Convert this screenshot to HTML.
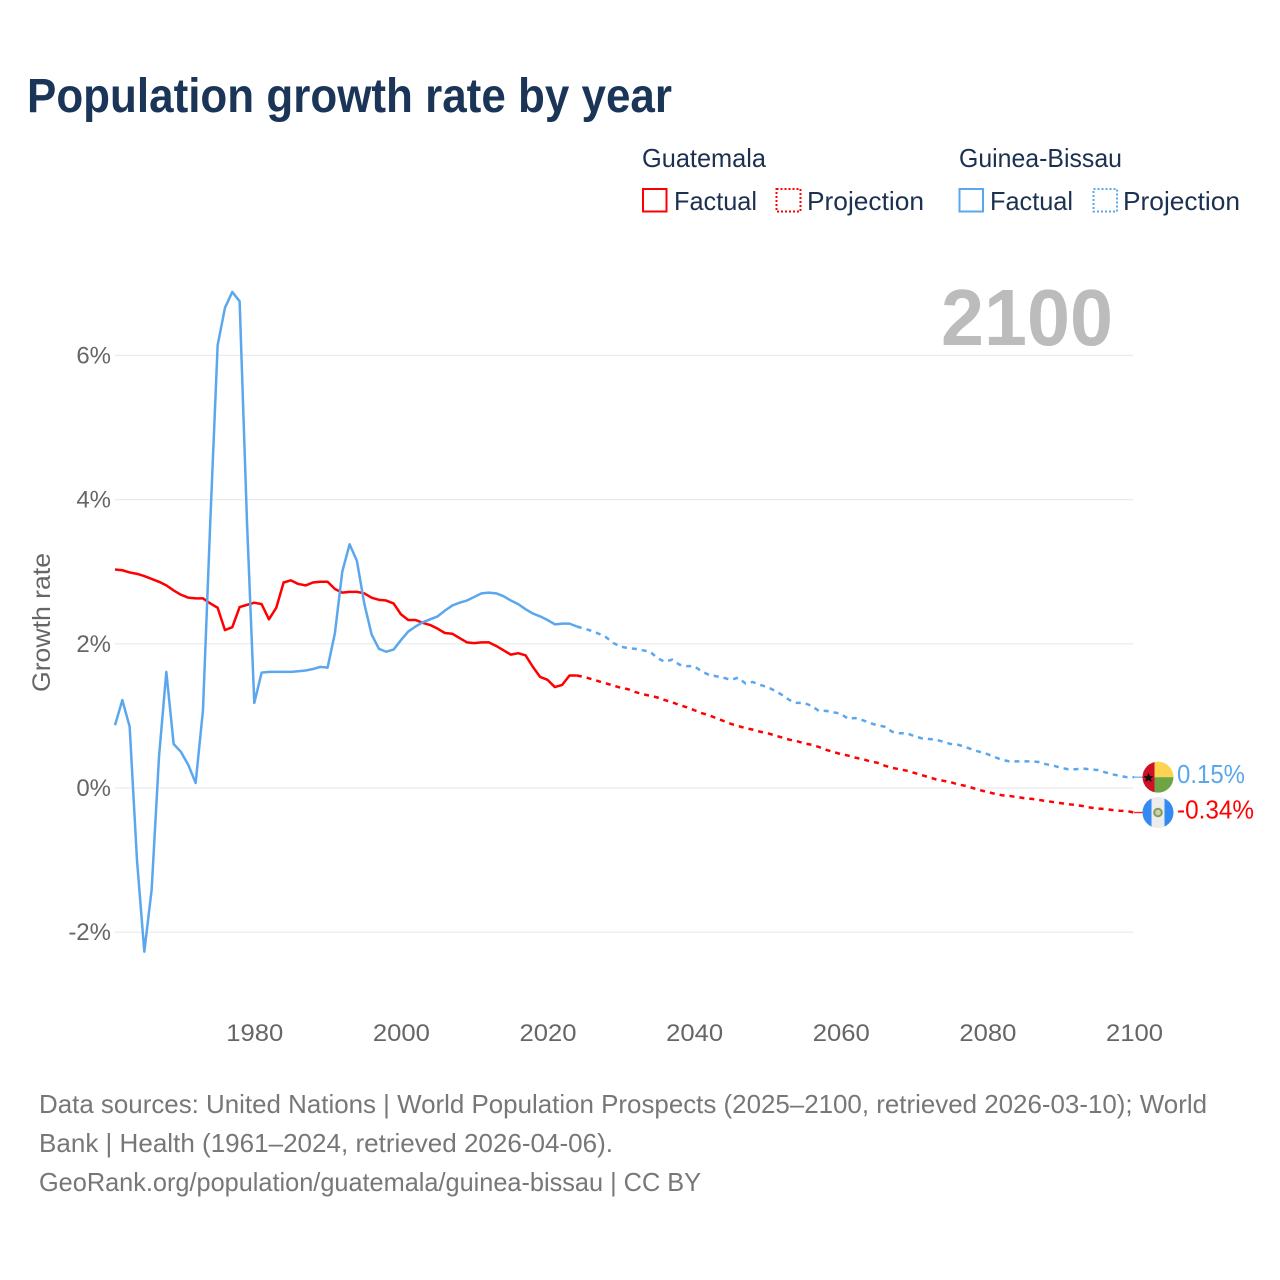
<!DOCTYPE html>
<html lang="en">
<head>
<meta charset="utf-8">
<title>Population growth rate by year</title>
<style>
html,body{margin:0;padding:0;background:#fff;}
svg{display:block;}
text{font-family:"Liberation Sans",sans-serif;}
</style>
</head>
<body>
<svg id="chart" xmlns="http://www.w3.org/2000/svg" width="1280" height="1280" viewBox="0 0 1280 1280">
  <rect x="0" y="0" width="1280" height="1280" fill="#ffffff"/>
  <text x="27" y="112" font-size="48" font-weight="700" fill="#1a3557" textLength="645" lengthAdjust="spacingAndGlyphs">Population growth rate by year</text>

  <g font-size="26" fill="#1c3150">
    <text x="642" y="167" textLength="124" lengthAdjust="spacingAndGlyphs">Guatemala</text>
    <text x="959" y="167" textLength="163" lengthAdjust="spacingAndGlyphs">Guinea-Bissau</text>
    <rect x="643" y="189" width="23.5" height="22.5" fill="none" stroke="#ff0000" stroke-width="2"/>
    <text x="674" y="210" textLength="83" lengthAdjust="spacingAndGlyphs">Factual</text>
    <rect x="776.5" y="189" width="24" height="22.5" fill="none" stroke="#ff0000" stroke-width="2" stroke-dasharray="2 2"/>
    <text x="807" y="210" textLength="117" lengthAdjust="spacingAndGlyphs">Projection</text>
    <rect x="959.5" y="189" width="23.5" height="22.5" fill="none" stroke="#5ba7ee" stroke-width="2"/>
    <text x="990" y="210" textLength="83" lengthAdjust="spacingAndGlyphs">Factual</text>
    <rect x="1093.5" y="189" width="23.5" height="22.5" fill="none" stroke="#5ba7ee" stroke-width="2" stroke-dasharray="2 2"/>
    <text x="1123" y="210" textLength="117" lengthAdjust="spacingAndGlyphs">Projection</text>
  </g>

  <g id="grid"></g>
  <text x="941" y="345" font-size="80" font-weight="700" fill="#bcbcbc" textLength="172" lengthAdjust="spacingAndGlyphs">2100</text>
  <g id="yTicks" font-size="24" fill="#666666" text-anchor="end"></g>
  <g id="xTicks" font-size="24" fill="#666666" text-anchor="middle"></g>
  <text transform="translate(50,692) rotate(-90)" x="0" y="0" font-size="25" fill="#666666" textLength="139" lengthAdjust="spacingAndGlyphs">Growth rate</text>
  <g id="series"></g>

  <defs>
    <clipPath id="flagClip"><circle cx="0" cy="0" r="15.5"/></clipPath>
  </defs>
  <g id="flagGW">
    <g clip-path="url(#flagClip)">
      <rect x="-16" y="-16" width="12.5" height="32" fill="#ce1126"/>
      <rect x="-3.5" y="-16" width="19.5" height="16" fill="#fcd44f"/>
      <rect x="-3.5" y="0" width="19.5" height="16" fill="#6ea544"/>
      <polygon points="-9.5,-4.5 -8,-1 -4.5,-1 -7.2,1.3 -6.2,4.8 -9.5,2.8 -12.8,4.8 -11.8,1.3 -14.5,-1 -11,-1" fill="#111111"/>
    </g>
  </g>
  <g id="flagGT">
    <g clip-path="url(#flagClip)">
      <rect x="-16" y="-16" width="32" height="32" fill="#ececec"/>
      <rect x="-16" y="-16" width="9.5" height="32" fill="#338af3"/>
      <rect x="6.5" y="-16" width="9.5" height="32" fill="#338af3"/>
      <circle cx="0" cy="0" r="3.8" fill="#d8cfa0" stroke="#7f9f62" stroke-width="2"/>
    </g>
  </g>
  <text id="labelGW" x="1177" font-size="26" fill="#5ba7ee" textLength="68" lengthAdjust="spacingAndGlyphs"></text>
  <text id="labelGT" x="1177" font-size="26" fill="#ff0000" textLength="77" lengthAdjust="spacingAndGlyphs"></text>

  <g font-size="26" fill="#777777">
    <text x="39" y="1113" textLength="1168" lengthAdjust="spacingAndGlyphs">Data sources: United Nations | World Population Prospects (2025–2100, retrieved 2026-03-10); World</text>
    <text x="39" y="1152" textLength="574" lengthAdjust="spacingAndGlyphs">Bank | Health (1961–2024, retrieved 2026-04-06).</text>
    <text x="39" y="1191" textLength="662" lengthAdjust="spacingAndGlyphs">GeoRank.org/population/guatemala/guinea-bissau | CC BY</text>
  </g>
</svg>
<script>
const firstYear = 1961;
const xTickYears = [1980, 2000, 2020, 2040, 2060, 2080, 2100];
const yTickValues = [6, 4, 2, 0, -2];
const yTickLabels = ["6%", "4%", "2%", "0%", "-2%"];

const guatemalaFactual = [
  3.03,3.02,2.99,2.97,2.94,2.90,2.86,2.81,2.74,2.68,
  2.64,2.63,2.63,2.56,2.50,2.19,2.23,2.51,2.54,2.57,
  2.55,2.34,2.50,2.85,2.88,2.83,2.81,2.85,2.86,2.86,
  2.76,2.71,2.72,2.72,2.70,2.64,2.61,2.60,2.56,2.41,
  2.33,2.33,2.29,2.26,2.21,2.15,2.14,2.08,2.02,2.01,
  2.02,2.02,1.97,1.91,1.85,1.87,1.84,1.68,1.54,1.50,
  1.40,1.43,1.56,1.56
];
const guatemalaProjection = [
  1.54,1.51,1.48,1.45,1.42,1.39,1.37,1.33,1.30,1.28,
  1.255,1.22,1.19,1.15,1.12,1.08,1.04,1.01,0.97,0.93,
  0.89,0.86,0.83,0.81,0.78,0.76,0.73,0.70,0.67,0.65,
  0.62,0.60,0.57,0.53,0.50,0.47,0.45,0.42,0.40,0.37,
  0.35,0.31,0.28,0.26,0.24,0.21,0.18,0.15,0.12,0.10,
  0.08,0.05,0.03,0.00,-0.03,-0.055,-0.08,-0.10,-0.11,-0.125,
  -0.14,-0.15,-0.165,-0.18,-0.195,-0.21,-0.225,-0.235,-0.25,-0.27,
  -0.285,-0.29,-0.305,-0.315,-0.32,-0.34
];
const guineaBissauFactual = [
  0.87,1.22,0.85,-1.00,-2.27,-1.41,0.43,1.61,0.61,0.50,
  0.32,0.07,1.08,3.70,6.14,6.66,6.88,6.75,3.70,1.18,
  1.60,1.61,1.61,1.61,1.61,1.62,1.63,1.65,1.68,1.67,
  2.15,3.00,3.38,3.15,2.56,2.13,1.93,1.89,1.92,2.05,
  2.17,2.24,2.30,2.34,2.38,2.46,2.53,2.57,2.60,2.65,
  2.70,2.71,2.70,2.66,2.60,2.55,2.48,2.42,2.38,2.33,
  2.27,2.28,2.28,2.24
];
const guineaBissauProjection = [
  2.21,2.18,2.14,2.09,2.01,1.96,1.94,1.93,1.91,1.89,
  1.80,1.75,1.78,1.71,1.69,1.69,1.62,1.57,1.55,1.53,
  1.50,1.53,1.45,1.47,1.43,1.40,1.35,1.29,1.22,1.18,
  1.18,1.14,1.07,1.07,1.05,1.03,0.96,0.97,0.94,0.90,
  0.87,0.85,0.78,0.76,0.76,0.72,0.69,0.68,0.67,0.64,
  0.61,0.60,0.57,0.53,0.50,0.47,0.43,0.39,0.37,0.37,
  0.37,0.37,0.36,0.33,0.31,0.28,0.26,0.26,0.27,0.26,
  0.25,0.22,0.19,0.17,0.15,0.15
];

const NS = "http://www.w3.org/2000/svg";
const xMin = 1961, xMax = 2100, xLeft = 115, xRight = 1134;
const yZero = 788, yPerPct = 72.1;
const red = "#ff0000", blue = "#5ba7ee";

function xScale(year) { return xLeft + (year - xMin) * (xRight - xLeft) / (xMax - xMin); }
function yScale(v) { return yZero - v * yPerPct; }
function make(tag, attrs, parent) {
  const el = document.createElementNS(NS, tag);
  for (const k in attrs) el.setAttribute(k, attrs[k]);
  parent.appendChild(el);
  return el;
}
function pathFrom(startYear, values) {
  return values.map(function (v, i) {
    return (i ? "L" : "M") + xScale(startYear + i).toFixed(2) + " " + yScale(v).toFixed(2);
  }).join(" ");
}

const grid = document.getElementById("grid");
const yTicks = document.getElementById("yTicks");
yTickValues.forEach(function (v, i) {
  const line = make("line", {x1: xLeft, x2: 1133, y1: yScale(v), y2: yScale(v), stroke: "#eaeaea", "stroke-width": 1.2}, grid);
  
  
  const t = make("text", {x: 111, y: yScale(v) + 8}, yTicks);
  
  
  t.textContent = yTickLabels[i];
});

const xTicks = document.getElementById("xTicks");
xTickYears.forEach(function (year) {
  const t = make("text", {x: xScale(year) + 0.5, y: 1041, textLength: 57, lengthAdjust: "spacingAndGlyphs"}, xTicks);
  
  
  t.textContent = String(year);
});

const series = document.getElementById("series");
function drawSeries(name, color, factual, projection) {
  const lastFactualYear = firstYear + factual.length - 1;
  const lastVal = factual[factual.length - 1];
  const solid = make("path", {d: pathFrom(firstYear, factual), fill: "none", stroke: color, "stroke-width": 2.5, "stroke-linejoin": "round"}, series);
  
  
  const dashed = make("path", {d: pathFrom(lastFactualYear, [lastVal].concat(projection)), fill: "none", stroke: color, "stroke-width": 2.5, "stroke-dasharray": "5 5"}, series);
  
  
  const endV = projection[projection.length - 1];
  const conn = make("line", {x1: xRight, x2: 1144, y1: yScale(endV), y2: yScale(endV), stroke: color, "stroke-width": 1.4, opacity: 0.85}, series);
  
  
}
drawSeries("guatemala", red, guatemalaFactual, guatemalaProjection);
drawSeries("guinea-bissau", blue, guineaBissauFactual, guineaBissauProjection);

function placeEnd(flagId, labelId, projection) {
  const v = projection[projection.length - 1];
  const y = yScale(v);
  document.getElementById(flagId).setAttribute("transform", "translate(1158," + y.toFixed(2) + ")");
  const lab = document.getElementById(labelId);
  lab.setAttribute("y", (y + 6).toFixed(2));
  lab.textContent = v.toFixed(2) + "%";
}
placeEnd("flagGW", "labelGW", guineaBissauProjection);
placeEnd("flagGT", "labelGT", guatemalaProjection);
</script>
</body>
</html>
